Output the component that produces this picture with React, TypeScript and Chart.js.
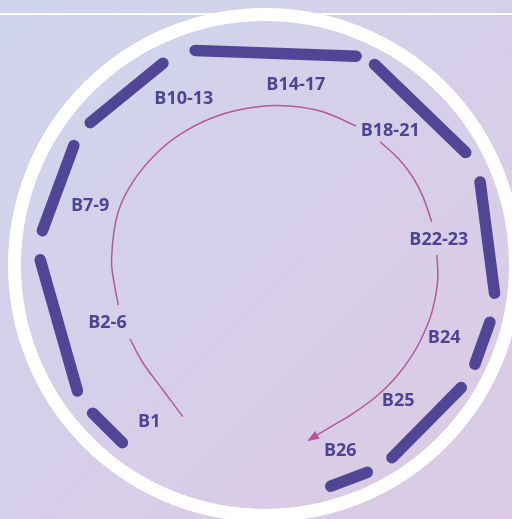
import React, { useEffect, useRef } from 'react';
import { Chart, registerables } from 'chart.js';

Chart.register(...registerables);

// ---- data ----
const segmentLabels = ['B1', 'B2-6', 'B7-9', 'B10-13', 'B14-17', 'B18-21', 'B22-23', 'B24', 'B25', 'B26'];
// bearings (degrees, clockwise from top) of each segment's ends
const segmentStartDeg = [218.2, 235.5, 277.6, 307.6, 340.1, 26.6, 67.1, 102.9, 120.9, 153.0];
const segmentEndDeg = [231.3, 272.8, 303.1, 333.9, 384.0, 61.4, 98.1, 116.7, 148.4, 165.4];
// label placement (bearing + distance from ring centre)
const labelBearingDeg = [217.5, 250.8, 288.9, 333.4, 8.7, 41.9, 81.0, 112.0, 135.9, 158.6];
const labelRadius = [195, 170, 188, 188, 184, 183, 173, 190, 187, 198];
// the inner arrow path, in pieces (bearing / radius samples)
const arrowBearingDeg = [
  [212.5, 223.5, 235.4, 245.2],
  [258.1, 264.8, 274.2, 290.3, 302.9, 316.7, 328.2, 340.7, 353.4, 364.8, 376.6, 389.0],
  [398.9, 407.5, 415.4, 423.0, 432.2],
  [444.0, 452.8, 463.5, 471.8, 481.1, 490.9, 501.0, 511.2, 520.9, 528.6],
];
const arrowRadius = [
  [171.5, 162.7, 160.3, 159.7],
  [160.1, 160.9, 163.9, 167.8, 168.3, 167.7, 167.0, 166.4, 166.1, 166.6, 167.2, 167.0],
  [167.3, 167.6, 167.3, 166.0, 164.6],
  [162.8, 162.9, 162.0, 161.0, 160.5, 160.2, 160.5, 161.5, 165.0, 171.4],
];

// ---- layout / style constants ----
const W = 512;
const H = 519;
const RING_CX = 268;
const RING_CY = 266;
const SEG_R = 229.5;
const SEG_WIDTH = 11.5;
const ARROW_CX = 275;
const ARROW_CY = 272;
const PURPLE = '#514596';
const MAGENTA = '#b5579c';

const rad = (d: number) => (d * Math.PI) / 180;
const polar = (cx: number, cy: number, deg: number, r: number) => ({
  x: cx + r * Math.sin(rad(deg)),
  y: cy - r * Math.cos(rad(deg)),
});

const decorPlugin = {
  id: 'decor',
  beforeDatasetsDraw(chart: any) {
    const { ctx } = chart;
    ctx.save();
    ctx.strokeStyle = '#ffffff';
    ctx.lineWidth = 2;
    ctx.beginPath();
    ctx.moveTo(0, 14);
    ctx.lineTo(W, 14);
    ctx.stroke();
    ctx.lineWidth = 13;
    ctx.beginPath();
    ctx.arc(265, 265, 250.5, 0, Math.PI * 2);
    ctx.stroke();
    ctx.restore();
  },
  afterDatasetsDraw(chart: any) {
    const { ctx } = chart;
    const xs = chart.scales.x;
    const ys = chart.scales.y;
    ctx.save();

    // arrow head at the end of the path
    const last = arrowBearingDeg.length - 1;
    const n = arrowBearingDeg[last].length;
    const t = polar(ARROW_CX, ARROW_CY, arrowBearingDeg[last][n - 1], arrowRadius[last][n - 1]);
    const p = polar(ARROW_CX, ARROW_CY, arrowBearingDeg[last][n - 2], arrowRadius[last][n - 2]);
    const tx = xs.getPixelForValue(t.x);
    const ty = ys.getPixelForValue(t.y);
    const px = xs.getPixelForValue(p.x);
    const py = ys.getPixelForValue(p.y);
    const dl = Math.hypot(tx - px, ty - py);
    const ux = (tx - px) / dl;
    const uy = (ty - py) / dl;
    const len = 10;
    const half = 4.5;
    ctx.fillStyle = MAGENTA;
    ctx.beginPath();
    ctx.moveTo(tx + ux * 2, ty + uy * 2);
    ctx.lineTo(tx - ux * len - uy * half, ty - uy * len + ux * half);
    ctx.lineTo(tx - ux * len + uy * half, ty - uy * len - ux * half);
    ctx.closePath();
    ctx.fill();

    ctx.fillStyle = '#4e4494';
    ctx.font = '700 18px "Open Sans", sans-serif';
    ctx.textAlign = 'center';
    ctx.textBaseline = 'middle';
    segmentLabels.forEach((lab, i) => {
      const q = polar(RING_CX, RING_CY, labelBearingDeg[i], labelRadius[i]);
      ctx.fillText(lab, xs.getPixelForValue(q.x), ys.getPixelForValue(q.y) + 1);
    });
    ctx.restore();
  },
};

export default function App() {
  const ref = useRef<HTMLCanvasElement | null>(null);

  useEffect(() => {
    if (!ref.current) return;
    const datasets: any[] = [];

    segmentLabels.forEach((lab, i) => {
      const a = polar(RING_CX, RING_CY, segmentStartDeg[i], SEG_R);
      const b = polar(RING_CX, RING_CY, segmentEndDeg[i], SEG_R);
      const len = Math.hypot(b.x - a.x, b.y - a.y);
      const ux = (b.x - a.x) / len;
      const uy = (b.y - a.y) / len;
      const c = SEG_WIDTH / 2 - 0.5;
      datasets.push({
        label: lab,
        data: [
          { x: a.x + ux * c, y: a.y + uy * c },
          { x: b.x - ux * c, y: b.y - uy * c },
        ],
        showLine: true,
        borderColor: PURPLE,
        borderWidth: SEG_WIDTH,
        borderCapStyle: 'round',
        pointRadius: 0,
        clip: false,
      });
    });

    arrowBearingDeg.forEach((piece, k) => {
      datasets.push({
        label: 'path' + k,
        data: piece.map((d, j) => polar(ARROW_CX, ARROW_CY, d, arrowRadius[k][j])),
        showLine: true,
        borderColor: MAGENTA,
        borderWidth: 1.5,
        tension: 0.35,
        pointRadius: 0,
        clip: false,
      });
    });

    const chart = new Chart(ref.current, {
      type: 'scatter',
      data: { datasets },
      options: {
        animation: false,
        responsive: false,
        maintainAspectRatio: false,
        layout: { padding: 0, autoPadding: false },
        plugins: { legend: { display: false }, tooltip: { enabled: false } },
        events: [],
        scales: {
          x: { type: 'linear', min: 0, max: W, display: false },
          y: { type: 'linear', min: 0, max: H, reverse: true, display: false },
        },
      },
      plugins: [decorPlugin],
    });
    return () => chart.destroy();
  }, []);

  return (
    <div
      style={{
        position: 'fixed',
        left: 0,
        top: 0,
        width: W,
        height: H,
        overflow: 'hidden',
        background: 'linear-gradient(135deg, #d0d5ed 0%, #d6cfe9 50%, #dccae3 100%)',
      }}
    >
      <canvas ref={ref} width={W} height={H} style={{ display: 'block' }} />
    </div>
  );
}
